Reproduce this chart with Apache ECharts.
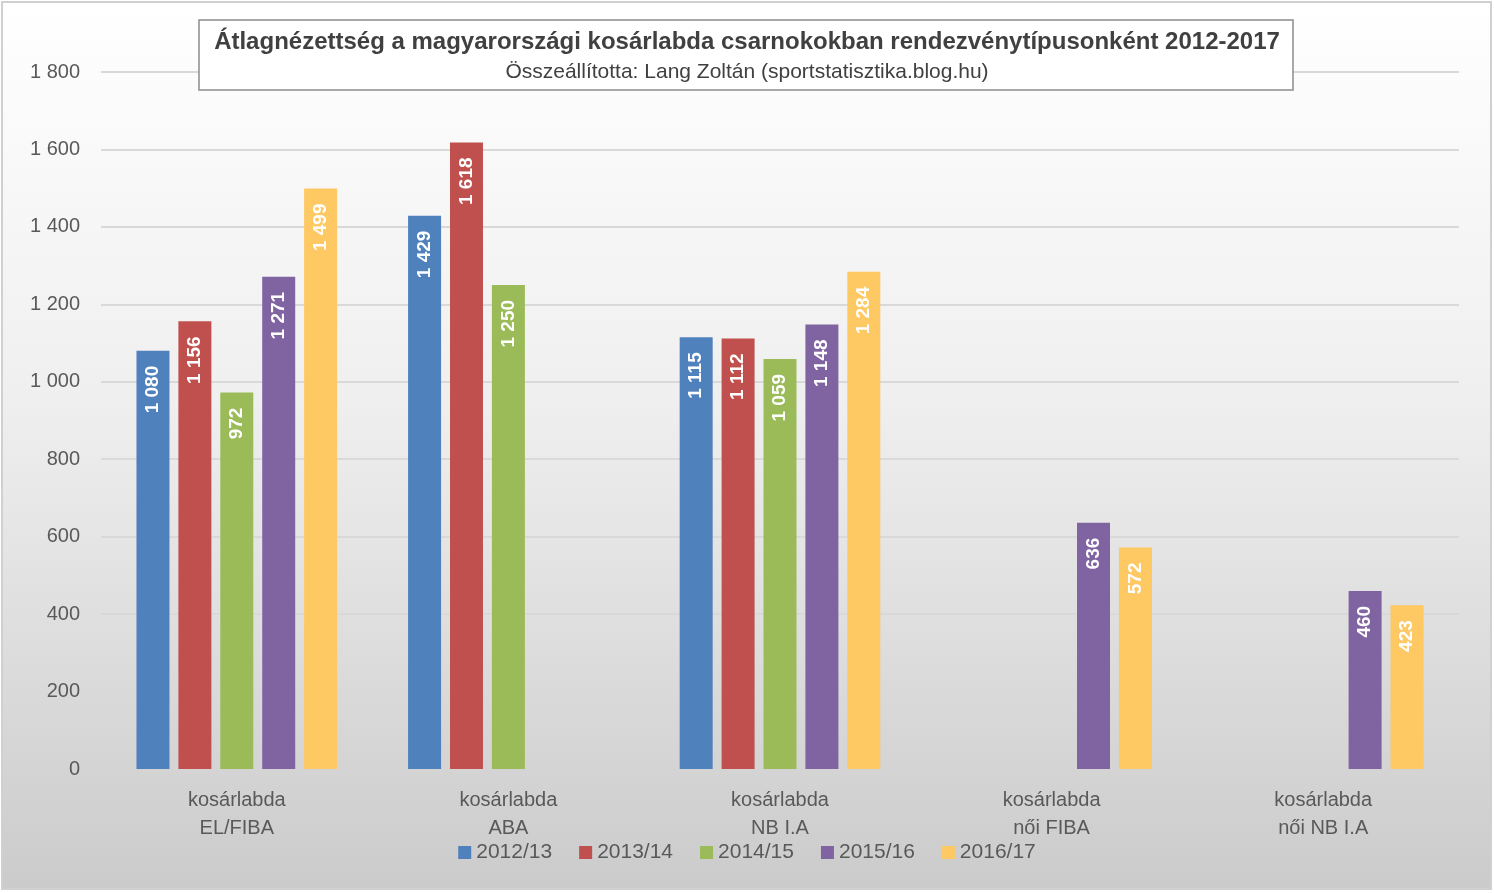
<!DOCTYPE html>
<html>
<head>
<meta charset="utf-8">
<script src="https://cdn.jsdelivr.net/npm/echarts@6/dist/echarts.min.js"></script>
<style>
html,body{margin:0;padding:0;background:#fff;}
#c{width:1494px;height:893px;}
</style>
</head>
<body>
<div id="c"></div>
<script>
const categories = ['kosárlabda\nEL/FIBA', 'kosárlabda\nABA', 'kosárlabda\nNB I.A', 'kosárlabda\nnői FIBA', 'kosárlabda\nnői NB I.A'];
const seriesNames = ['2012/13', '2013/14', '2014/15', '2015/16', '2016/17'];
const s2012 = [1080, 1429, 1115, null, null];
const s2013 = [1156, 1618, 1112, null, null];
const s2014 = [972, 1250, 1059, null, null];
const s2015 = [1271, null, 1148, 636, 460];
const s2016 = [1499, null, 1284, 572, 423];
const yTicks = [0, 200, 400, 600, 800, 1000, 1200, 1400, 1600, 1800];
const colors = ['#4f81bd', '#c0504d', '#9bbb59', '#8064a2', '#fec862'];
const allData = [s2012, s2013, s2014, s2015, s2016];

const FONT = '"Liberation Sans", Arial, sans-serif';
const fmt = v => String(v).replace(/\B(?=(\d{3})+(?!\d))/g, ' ');

const chart = echarts.init(document.getElementById('c'), null, {renderer: 'canvas'});
chart.setOption({
  animation: false,
  color: colors,
  textStyle: {fontFamily: FONT},
  graphic: [
    {type: 'rect', z: -10, silent: true,
     shape: {x: 2, y: 2, width: 1489, height: 887},
     style: {fill: new echarts.graphic.LinearGradient(0, 0, 0, 1, [
        {offset: 0, color: '#ffffff'}, {offset: 0.45, color: '#efefef'}, {offset: 1, color: '#cbcbcb'}]),
        stroke: '#d0d0d0', lineWidth: 2}},
    {type: 'rect', z: 5, silent: true,
     shape: {x: 199, y: 20, width: 1094, height: 70},
     style: {fill: '#ffffff', stroke: '#8c8c8c', lineWidth: 1.5}}
  ],
  title: {
    text: 'Átlagnézettség a magyarországi kosárlabda csarnokokban rendezvénytípusonként 2012-2017',
    subtext: 'Összeállította: Lang Zoltán (sportstatisztika.blog.hu)',
    left: 'center', top: 25, itemGap: 8, z: 10,
    textStyle: {fontFamily: FONT, fontWeight: 'bold', fontSize: 24, color: '#404040'},
    subtextStyle: {fontFamily: FONT, fontSize: 21, color: '#404040'}
  },
  legend: {
    data: seriesNames, bottom: 25, left: 'center',
    itemWidth: 13, itemHeight: 13, itemGap: 27, icon: 'rect',
    textStyle: {fontSize: 21, color: '#595959', fontFamily: FONT, padding: [0, 0, 0, 0]}
  },
  grid: {left: 101, right: 35, top: 72, bottom: 124, containLabel: false},
  xAxis: {
    type: 'category', data: categories,
    axisTick: {show: false},
    axisLine: {lineStyle: {color: '#d4d4d4', width: 2}},
    axisLabel: {fontSize: 20, color: '#595959', lineHeight: 28, margin: 17, fontFamily: FONT}
  },
  yAxis: {
    type: 'value', min: 0, max: 1800, interval: 200,
    axisLine: {show: false}, axisTick: {show: false},
    splitLine: {lineStyle: {color: '#d9d9d9', width: 2}},
    axisLabel: {fontSize: 20, color: '#595959', margin: 21, fontFamily: FONT,
      formatter: v => yTicks.includes(v) ? fmt(v) : ''}
  },
  series: seriesNames.map((name, i) => ({
    name, type: 'bar', data: allData[i],
    barWidth: 33, barGap: '27%',
    itemStyle: {color: colors[i]},
    label: {
      show: true, position: 'insideTop', rotate: 90, align: 'right', verticalAlign: 'middle',
      distance: 15, color: '#ffffff', fontWeight: 'bold', fontSize: 19, fontFamily: FONT,
      formatter: p => p.value == null ? '' : fmt(p.value)
    }
  }))
});
</script>
</body>
</html>
